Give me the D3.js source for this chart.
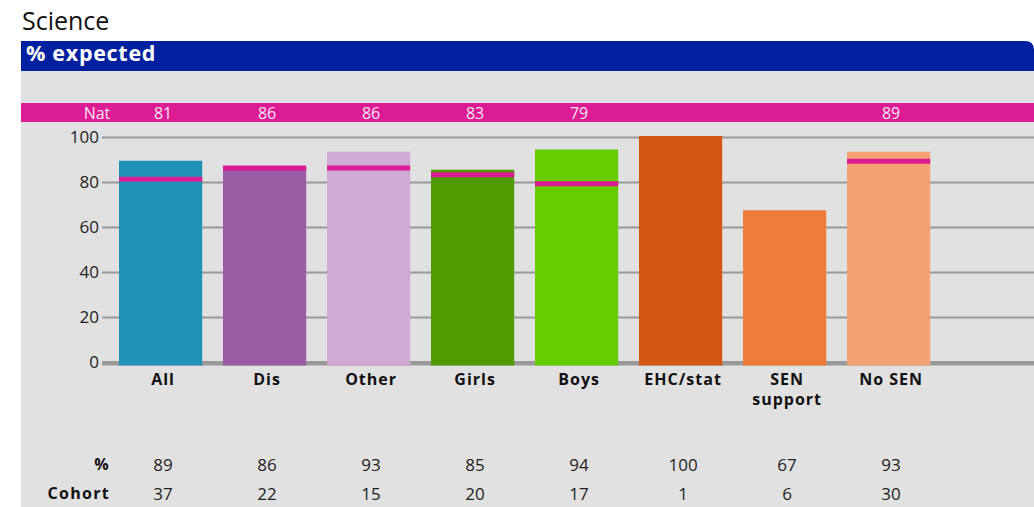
<!DOCTYPE html>
<html><head><meta charset="utf-8">
<script src="https://cdn.jsdelivr.net/npm/d3@7"></script>
<style>
html,body{margin:0;padding:0;background:#fff;}
svg{display:block;font-family:"Open Sans","Noto Sans",sans-serif;}
</style></head>
<body>
<svg id="chart" width="1034" height="507"></svg>
<script>
const categories = ["All","Dis","Other","Girls","Boys","EHC/stat","SEN support","No SEN"];
const pctValues = [89,86,93,85,94,100,67,93];
const natValues = [81,86,86,83,79,null,null,89];
const cohort = [37,22,15,20,17,1,6,30];
const colors = ["#2092b8","#9b5ba5","#d0aad3","#4e9a00","#66cc00","#d35713","#ed7b39","#f3a273"];
const yTicks = [0,20,40,60,80,100];

const svg = d3.select("#chart");
const W = 1034, H = 507;
const TX = 2.5; // text offset from bar centre

// title
svg.append("text").attr("x",22).attr("y",30).attr("font-size",25).attr("fill","#111").text("Science");

// panel background
svg.append("rect").attr("x",21).attr("y",70).attr("width",W-21).attr("height",H-70).attr("fill","#e1e1e1");

// header with rounded top-right corner
const hx=21, hy=41, hw=W-21, hh=30, r=9;
svg.append("path").attr("d",`M${hx},${hy} H${hx+hw-r} Q${hx+hw},${hy} ${hx+hw},${hy+r} V${hy+hh} H${hx} Z`).attr("fill","#00209f");
svg.append("text").attr("x",26).attr("y",61).attr("font-size",21.5).attr("font-weight","bold").attr("fill","#fff").attr("letter-spacing",0.7).text("% expected");

// scales
const x = d3.scaleBand().domain(categories).range([108.6,940.6]).paddingInner(0.2).paddingOuter(0.1);
const y = d3.scaleLinear().domain([0,100]).range([362.5,137.5]);
const cx = d => x(d)+x.bandwidth()/2+TX;

// nat band
svg.append("rect").attr("x",21).attr("y",103).attr("width",W-21).attr("height",19).attr("fill","#db1c94");
svg.append("text").attr("x",97).attr("y",118.5).attr("text-anchor","middle").attr("font-size",16).attr("fill","#fbe3f1").text("Nat");
svg.selectAll("text.nat").data(categories.map((c,i)=>({c,v:natValues[i]})).filter(d=>d.v!=null))
  .enter().append("text").attr("class","nat")
  .attr("x",d=>cx(d.c)).attr("y",118.5).attr("text-anchor","middle")
  .attr("font-size",16).attr("fill","#fbe3f1").text(d=>d.v);

// gridlines
const grid = svg.append("g");
grid.selectAll("line").data(yTicks.filter(t=>t>0)).enter().append("line")
  .attr("x1",102).attr("x2",W).attr("y1",d=>y(d)).attr("y2",d=>y(d))
  .attr("stroke","#999").attr("stroke-width",2);
// y axis labels
const yAxis = d3.axisLeft(y).tickValues(yTicks).tickSize(0).tickPadding(3);
const ya = svg.append("g").attr("transform","translate(102,0)").call(yAxis);
ya.select(".domain").remove();
ya.selectAll(".tick line").remove();
ya.selectAll(".tick text").attr("font-size",17).attr("fill","#222").attr("font-family","'Open Sans','Noto Sans',sans-serif");

// baseline
svg.append("rect").attr("x",102).attr("y",y(0)-1.5).attr("width",W-102).attr("height",4.5).attr("fill","#999");

// bars
svg.selectAll("rect.bar").data(categories).enter().append("rect").attr("class","bar")
  .attr("x",d=>x(d)).attr("width",x.bandwidth())
  .attr("y",(d,i)=>y(pctValues[i])-1.5).attr("height",(d,i)=>y(0)+3-(y(pctValues[i])-1.5))
  .attr("fill",(d,i)=>colors[i]);

// nat markers
svg.selectAll("rect.natm").data(categories.map((c,i)=>({c,v:natValues[i]})).filter(d=>d.v!=null))
  .enter().append("rect").attr("class","natm")
  .attr("x",d=>x(d.c)).attr("width",x.bandwidth())
  .attr("y",d=>y(d.v)-3.5).attr("height",5).attr("fill","#db1c94");

// x labels
svg.selectAll("text.xl").data(categories).enter().append("text").attr("class","xl")
  .attr("x",d=>cx(d)).attr("y",385).attr("text-anchor","middle")
  .attr("font-size",16).attr("font-weight","bold").attr("fill","#111").attr("letter-spacing",1)
  .each(function(d){
    const parts = d==="SEN support" ? ["SEN","support"] : [d];
    const t = d3.select(this);
    parts.forEach((p,k)=>t.append("tspan").attr("x",cx(d)).attr("dy",k?20:0).text(p));
  });

// table
svg.append("text").attr("x",110).attr("y",470).attr("text-anchor","end").attr("font-size",16).attr("font-weight","bold").attr("letter-spacing",1.3).attr("fill","#111").text("%");
svg.append("text").attr("x",110).attr("y",499).attr("text-anchor","end").attr("font-size",16).attr("font-weight","bold").attr("letter-spacing",1.3).attr("fill","#111").text("Cohort");
svg.selectAll("text.pv").data(categories).enter().append("text").attr("class","pv")
  .attr("x",d=>cx(d)).attr("y",471).attr("text-anchor","middle").attr("font-size",17).attr("fill","#222")
  .text((d,i)=>pctValues[i]);
svg.selectAll("text.cv").data(categories).enter().append("text").attr("class","cv")
  .attr("x",d=>cx(d)).attr("y",500).attr("text-anchor","middle").attr("font-size",17).attr("fill","#222")
  .text((d,i)=>cohort[i]);
</script>
</body></html>
